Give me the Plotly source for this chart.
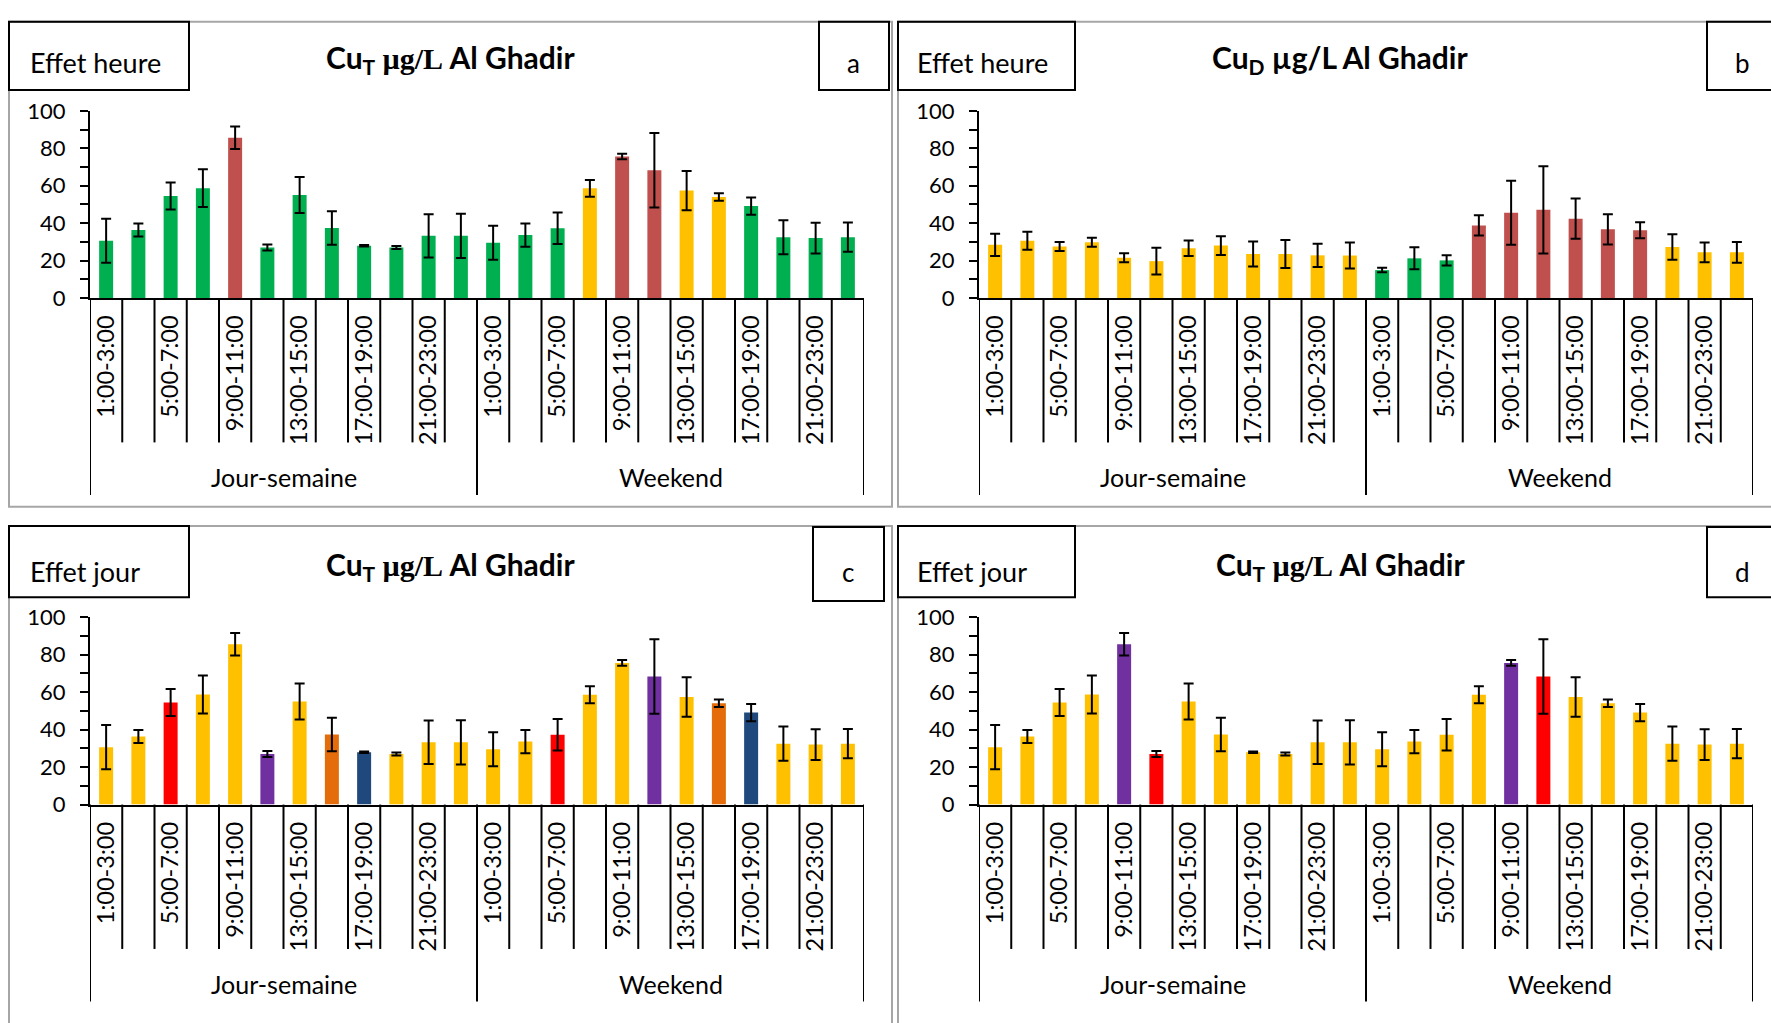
import plotly.graph_objects as go

W, H = 1771, 1023

# ---------------- data ----------------
hours = ["1:00-3:00", "3:00-5:00", "5:00-7:00", "7:00-9:00", "9:00-11:00", "11:00-13:00",
         "13:00-15:00", "15:00-17:00", "17:00-19:00", "19:00-21:00", "21:00-23:00", "23:00-1:00"]
groups = ["Jour-semaine", "Weekend"]

cut_weekday = [30.6, 36.3, 54.5, 58.7, 85.6, 27.0, 55.0, 37.4, 27.9, 27.0, 33.2, 33.2]
cut_weekday_err = [11.8, 3.5, 7.2, 10.1, 6.0, 1.6, 9.6, 8.9, 0.4, 0.8, 11.6, 11.8]
cut_weekend = [29.5, 33.6, 37.3, 58.6, 75.6, 68.3, 57.4, 54.0, 49.1, 32.5, 32.0, 32.5]
cut_weekend_err = [9.1, 6.2, 8.4, 4.5, 1.5, 19.9, 10.5, 2.0, 4.6, 9.1, 8.2, 7.8]

cud_weekday = [28.4, 30.6, 27.5, 29.8, 21.5, 19.7, 26.6, 28.0, 23.5, 23.5, 22.8, 22.7]
cud_weekday_err = [6.0, 4.8, 2.4, 2.4, 2.4, 7.2, 4.1, 5.0, 6.7, 7.5, 6.2, 7.0]
cud_weekend = [14.9, 21.2, 20.1, 38.8, 45.5, 47.1, 42.4, 36.7, 36.2, 27.2, 24.4, 24.4]
cud_weekend_err = [1.2, 5.9, 2.7, 5.4, 17.1, 23.3, 10.8, 8.1, 4.3, 6.8, 5.3, 5.5]

y_ticks = [0, 20, 40, 60, 80, 100]

# ---------------- styles ----------------
PAL = {"G": "#00B050", "B": "#C0504D", "Y": "#FFC000", "R": "#FF0000",
       "P": "#7030A0", "O": "#E46C0A", "N": "#1F497D"}
colors_a = list("GGGGBGGGGGGG" + "GGGYBBYYGGGG")
colors_b = list("YYYYYYYYYYYY" + "GGGBBBBBBYYY")
colors_c = list("YYRYYPYONYYY" + "YYRYYPYONYYY")
colors_d = list("YYYYPRYYYYYY" + "YYYYPRYYYYYY")

FONT = "Lato"
SERIF = "Liberation Serif"

def title_html(sub, serif=True):
    unit = f"<span style='font-family:{SERIF}'>µg/L</span>" if serif else "µg/L"
    return f"<b>Cu<sub>{sub}</sub> {unit} Al Ghadir</b>"

panels = [
    dict(vals=cut_weekday + cut_weekend, errs=cut_weekday_err + cut_weekend_err, cols=colors_a,
         title=title_html("T"), tag="Effet heure", letter="a",
         px=(90, 864), py=(99.5, 291.7), frame=(9, 892, 8, 506), tagbox=(9, 189, 8, 78),
         letterbox=(819, 889, 8, 78), letter_xy=(853, 50), title_xy=(450, 46), tag_xy=(28, 50)),
    dict(vals=cud_weekday + cud_weekend, errs=cud_weekday_err + cud_weekend_err, cols=colors_b,
         title=title_html("D", serif=False), tag="Effet heure", letter="b",
         px=(979, 1753), py=(99.5, 291.7), frame=(898, 1780, 8, 506), tagbox=(898, 1075, 8, 78),
         letterbox=(1707, 1780, 8, 78), letter_xy=(1742, 50), title_xy=(1340, 46), tag_xy=(915, 50)),
    dict(vals=cut_weekday + cut_weekend, errs=cut_weekday_err + cut_weekend_err, cols=colors_c,
         title=title_html("T"), tag="Effet jour", letter="c",
         px=(90, 864), py=(619.5, 812), frame=(9, 892, 526, 1040), tagbox=(9, 189, 526, 599),
         letterbox=(813, 884, 527, 603), letter_xy=(848, 573), title_xy=(450, 567), tag_xy=(28, 573)),
    dict(vals=cut_weekday + cut_weekend, errs=cut_weekday_err + cut_weekend_err, cols=colors_d,
         title=title_html("T"), tag="Effet jour", letter="d",
         px=(979, 1753), py=(619.5, 812), frame=(898, 1780, 526, 1040), tagbox=(898, 1075, 526, 599),
         letterbox=(1707, 1780, 527, 599), letter_xy=(1742, 573), title_xy=(1340, 567), tag_xy=(915, 573)),
]

def fx(p):
    return p / W

def fy(p):
    return 1 - p / H

n_per = len(hours)
n_all = n_per * len(groups)
xs = list(range(n_all))
tickvals = [i for i in xs if (i % n_per) % 2 == 0]
ticktext = [hours[i % n_per] for i in tickvals]

fig = go.Figure()
shapes = []
annotations = []

for k, p in enumerate(panels):
    s = "" if k == 0 else str(k + 1)
    fig.add_trace(go.Bar(
        x=xs, y=p["vals"], xaxis="x" + s, yaxis="y" + s,
        marker=dict(color=[PAL[c] for c in p["cols"]], line=dict(width=0)),
        error_y=dict(type="data", array=p["errs"], visible=True, color="black",
                     thickness=2, width=5),
        showlegend=False, hoverinfo="skip",
    ))
    hpx = p["py"][1] - p["py"][0]
    fig.update_layout(**{
        "xaxis" + s: dict(
            domain=[fx(p["px"][0]), fx(p["px"][1])], anchor="y" + s,
            range=[-0.5, n_all - 0.5], showgrid=False, zeroline=False,
            showline=True, linecolor="black", linewidth=2,
            tickmode="array", tickvals=tickvals, ticktext=ticktext, tickangle=-90,
            ticks="", ticklabelstandoff=6,
            tickfont=dict(family=FONT, size=23.5, color="black"),
        ),
        "yaxis" + s: dict(
            domain=[fy(p["py"][1]), fy(p["py"][0])], anchor="x" + s,
            range=[0, 100], tickmode="array", tickvals=y_ticks,
            showgrid=False, zeroline=False,
            showline=True, linecolor="black", linewidth=2,
            ticks="outside", ticklen=8, tickwidth=2, tickcolor="black",
            minor=dict(ticks="outside", dtick=10, ticklen=8, tickwidth=2, tickcolor="black", showgrid=False),
            ticklabelstandoff=10,
            tickfont=dict(family=FONT, size=22, color="black"),
        ),
    })
    # category separators
    for i in range(n_all + 1):
        xpos = i - 0.5
        is_group = (i % n_per == 0)
        depth = (494 - 291.7) if is_group else (440 - 291.7)
        shapes.append(dict(type="line", xref="x" + s, yref="y" + s + " domain",
                           x0=xpos, x1=xpos, y0=0, y1=-depth / hpx,
                           line=dict(color="black", width=2)))
    # group labels
    for g, name in enumerate(groups):
        annotations.append(dict(xref="x" + s, yref="y" + s + " domain",
                                x=g * n_per + (n_per - 1) / 2, y=-(476 - 291.7) / hpx,
                                text=name, showarrow=False, xanchor="center", yanchor="middle",
                                font=dict(family=FONT, size=25, color="black")))
    # frame
    x0, x1, y0, y1 = p["frame"]
    shapes.append(dict(type="rect", xref="paper", yref="paper", x0=fx(x0), x1=fx(x1),
                       y0=fy(y1), y1=fy(y0), line=dict(color="#A6A6A6", width=2), layer="below"))
    for box in (p["tagbox"], p["letterbox"]):
        bx0, bx1, by0, by1 = box
        shapes.append(dict(type="rect", xref="paper", yref="paper", x0=fx(bx0), x1=fx(bx1),
                           y0=fy(by1), y1=fy(by0), line=dict(color="black", width=2)))
    annotations.append(dict(xref="paper", yref="paper", x=fx(p["tag_xy"][0]), y=fy(p["tag_xy"][1]),
                            text=p["tag"], showarrow=False, xanchor="left", yanchor="middle",
                            font=dict(family=FONT, size=27, color="black")))
    annotations.append(dict(xref="paper", yref="paper", x=fx(p["letter_xy"][0]), y=fy(p["letter_xy"][1]),
                            text=p["letter"], showarrow=False, xanchor="center", yanchor="middle",
                            font=dict(family=FONT, size=26, color="black")))
    annotations.append(dict(xref="paper", yref="paper", x=fx(p["title_xy"][0]), y=fy(p["title_xy"][1]),
                            text=p["title"], showarrow=False, xanchor="center", yanchor="middle",
                            font=dict(family=FONT, size=30, color="black")))

fig.update_layout(
    width=W, height=H, margin=dict(l=0, r=0, t=0, b=0),
    paper_bgcolor="white", plot_bgcolor="white",
    bargap=0.566, shapes=shapes, annotations=annotations,
)

fig.write_html("out.html", config={"displayModeBar": False},
               post_script="document.body.style.margin='0';document.body.style.overflow='hidden';")
